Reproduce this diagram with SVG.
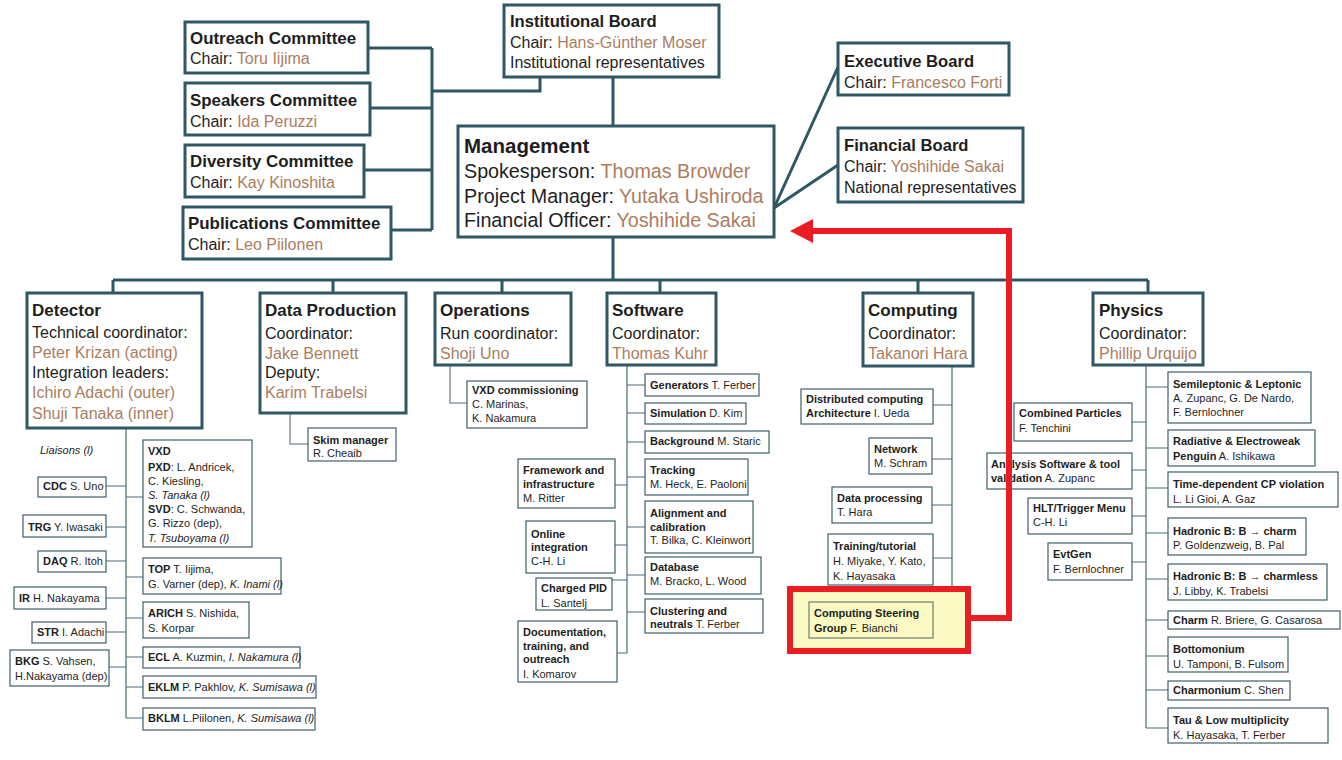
<svg xmlns="http://www.w3.org/2000/svg" width="1342" height="760" viewBox="0 0 1342 760">
<style>
text{font-family:"Liberation Sans",Arial,sans-serif;fill:#1e1e1e}
.bx{fill:#fff;stroke:#2f5764;stroke-width:3}
.sb{fill:#fff;stroke:#3f5f6a;stroke-width:1.2}
.m{fill:none;stroke:#2f5764;stroke-width:3}
.c{fill:none;stroke:#4a6b75;stroke-width:1.2}
.g{fill:none;stroke:#8c9ca2;stroke-width:1.6}
.ct{font-size:16.9px;font-weight:bold}
.t{font-size:16px}
.bt{font-size:16.6px;font-weight:bold}
.dt{font-size:17px;font-weight:bold}
.mg{font-size:19.7px}
.h{font-weight:bold}
.n{fill:#ab7d60}
.s{font-size:11px}
.i{font-style:italic}
.red{fill:none;stroke:#ec1c24;stroke-width:6}
</style>
<rect width="1342" height="760" fill="#fff"/>
<g id="connectors">
<path class="m" d="M368 48H432M370 108H432M364 170H432M391 230H432M432 48V230M432 91H540V77"/>
<path class="m" d="M613 77V126M613 237V280M113 280H1148M113 280V293M333 280V293M502 280V293M660 280V293M918 280V293M1148 280V293"/>
<path class="m" d="M774 208L838 67M774 208L838 165"/>
<path class="g" d="M290 413V444H308M450 365V403H467"/>
<path class="c" d="M126 428V718M106 486H126M106 527H126M106 561H126M106 598H126M106 632H126M109 667H126M126 497H143M126 577H143M126 618H143M126 657H143M126 687H143M126 718H143"/>
<path class="c" d="M627 365V653M627 385H645M627 413H645M627 442H645M627 477H645M627 527H645M627 575H645M627 612H645M615 485H627M615 545H627M612 580H627M617 653H627"/>
<path class="c" d="M952 366V618M933 405H952M932 459H952M932 505H952M933 558H952M933 618H952"/>
<path class="c" d="M1146 365V728M1132 422H1146M1132 470H1146M1132 516H1146M1132 562H1146M1146 387H1168M1146 448H1168M1146 488H1168M1146 533H1168M1146 579H1168M1146 620H1168M1146 656H1168M1146 690H1168M1146 728H1168"/>
<rect id="highlight" x="790" y="589" width="178" height="62" fill="#fbf9c4" stroke="#ec1c24" stroke-width="6"/>
</g>

<g id="outreach"><rect class="bx" x="185" y="22" width="183" height="51"/><text class="ct" x="190" y="44">Outreach Committee</text><text class="t" x="190" y="64">Chair: <tspan class="n">Toru Iijima</tspan></text></g>
<g id="speakers"><rect class="bx" x="185" y="83" width="185" height="52"/><text class="ct" x="190" y="106">Speakers Committee</text><text class="t" x="190" y="127">Chair: <tspan class="n">Ida Peruzzi</tspan></text></g>
<g id="diversity"><rect class="bx" x="185" y="145" width="179" height="52"/><text class="ct" x="190" y="167">Diversity Committee</text><text class="t" x="190" y="188">Chair: <tspan class="n">Kay Kinoshita</tspan></text></g>
<g id="publications"><rect class="bx" x="183" y="207" width="208" height="52"/><text class="ct" x="188" y="229">Publications Committee</text><text class="t" x="188" y="250">Chair: <tspan class="n">Leo Piilonen</tspan></text></g>

<g id="institutional"><rect class="bx" x="504" y="5" width="215" height="72"/><text class="bt" x="510" y="27">Institutional Board</text><text class="t" x="510" y="48">Chair: <tspan class="n">Hans-Günther Moser</tspan></text><text class="t" x="510" y="68">Institutional representatives</text></g>
<g id="management"><rect class="bx" x="458" y="126" width="316" height="111"/><text x="464" y="153" font-size="20.5" font-weight="bold">Management</text><text class="mg" x="464" y="178">Spokesperson: <tspan class="n">Thomas Browder</tspan></text><text class="mg" x="464" y="203">Project Manager: <tspan class="n">Yutaka Ushiroda</tspan></text><text class="mg" x="464" y="227">Financial Officer: <tspan class="n">Yoshihide Sakai</tspan></text></g>
<g id="executive"><rect class="bx" x="838" y="43" width="171" height="52"/><text class="bt" x="844" y="67">Executive Board</text><text class="t" x="844" y="88">Chair: <tspan class="n">Francesco Forti</tspan></text></g>
<g id="financial"><rect class="bx" x="838" y="128" width="185" height="74"/><text class="bt" x="844" y="151">Financial Board</text><text class="t" x="844" y="172">Chair: <tspan class="n">Yoshihide Sakai</tspan></text><text class="t" x="844" y="193">National representatives</text></g>

<g id="detector"><rect class="bx" x="27" y="293" width="175" height="135"/><text class="dt" x="32" y="316">Detector</text><text class="t" x="32" y="338">Technical coordinator:</text><text class="t n" x="32" y="358">Peter Krizan (acting)</text><text class="t" x="32" y="378">Integration leaders:</text><text class="t n" x="32" y="398">Ichiro Adachi (outer)</text><text class="t n" x="32" y="419">Shuji Tanaka (inner)</text></g>
<g id="dataproduction"><rect class="bx" x="260" y="293" width="146" height="120"/><text class="dt" x="265" y="316">Data Production</text><text class="t" x="265" y="339">Coordinator:</text><text class="t n" x="265" y="359">Jake Bennett</text><text class="t" x="265" y="378">Deputy:</text><text class="t n" x="265" y="398">Karim Trabelsi</text></g>
<g id="operations"><rect class="bx" x="435" y="293" width="136" height="72"/><text class="dt" x="440" y="316">Operations</text><text class="t" x="440" y="339">Run coordinator:</text><text class="t n" x="440" y="359">Shoji Uno</text></g>
<g id="software"><rect class="bx" x="607" y="293" width="109" height="72"/><text class="dt" x="612" y="316">Software</text><text class="t" x="612" y="339">Coordinator:</text><text class="t n" x="612" y="359">Thomas Kuhr</text></g>
<g id="computing"><rect class="bx" x="863" y="293" width="110" height="73"/><text class="dt" x="868" y="316">Computing</text><text class="t" x="868" y="339">Coordinator:</text><text class="t n" x="868" y="359">Takanori Hara</text></g>
<g id="physics"><rect class="bx" x="1093" y="293" width="110" height="72"/><text class="dt" x="1099" y="316">Physics</text><text class="t" x="1099" y="339">Coordinator:</text><text class="t n" x="1099" y="359">Phillip Urquijo</text></g>

<text class="s i" x="40" y="454" fill="#444">Liaisons (l)</text>
<g id="cdc"><rect class="sb" x="38" y="477" width="68" height="20"/><text class="s" x="43" y="490"><tspan class="h">CDC</tspan> S. Uno</text></g>
<g id="trg"><rect class="sb" x="23" y="515" width="83" height="22"/><text class="s" x="28" y="531"><tspan class="h">TRG</tspan> Y. Iwasaki</text></g>
<g id="daq"><rect class="sb" x="38" y="551" width="68" height="21"/><text class="s" x="43" y="565"><tspan class="h">DAQ</tspan> R. Itoh</text></g>
<g id="ir"><rect class="sb" x="14" y="587" width="92" height="22"/><text class="s" x="19" y="602"><tspan class="h">IR</tspan> H. Nakayama</text></g>
<g id="str"><rect class="sb" x="32" y="622" width="74" height="21"/><text class="s" x="37" y="636"><tspan class="h">STR</tspan> I. Adachi</text></g>
<g id="bkg"><rect class="sb" x="10" y="650" width="99" height="36"/><text class="s" x="15" y="665"><tspan class="h">BKG</tspan> S. Vahsen,</text><text class="s" x="15" y="680">H.Nakayama (dep)</text></g>
<g id="vxd"><rect class="sb" x="143" y="440" width="109" height="107"/><text class="s h" x="148" y="455">VXD</text><text class="s" x="148" y="471"><tspan class="h">PXD</tspan>: L. Andricek,</text><text class="s" x="148" y="485">C. Kiesling,</text><text class="s i" x="148" y="499">S. Tanaka (l)</text><text class="s" x="148" y="513"><tspan class="h">SVD</tspan>: C. Schwanda,</text><text class="s" x="148" y="527">G. Rizzo (dep),</text><text class="s i" x="148" y="542">T. Tsuboyama (l)</text></g>
<g id="top"><rect class="sb" x="143" y="558" width="138" height="36"/><text class="s" x="148" y="573"><tspan class="h">TOP</tspan> T. Iijima,</text><text class="s" x="148" y="588">G. Varner (dep), <tspan class="i">K. Inami (l)</tspan></text></g>
<g id="arich"><rect class="sb" x="143" y="602" width="106" height="36"/><text class="s" x="148" y="617"><tspan class="h">ARICH</tspan> S. Nishida,</text><text class="s" x="148" y="632">S. Korpar</text></g>
<g id="ecl"><rect class="sb" x="143" y="647" width="157" height="21"/><text class="s" x="148" y="661"><tspan class="h">ECL</tspan> A. Kuzmin, <tspan class="i">I. Nakamura (l)</tspan></text></g>
<g id="eklm"><rect class="sb" x="143" y="676" width="173" height="22"/><text class="s" x="148" y="691"><tspan class="h">EKLM</tspan> P. Pakhlov, <tspan class="i">K. Sumisawa (l)</tspan></text></g>
<g id="bklm"><rect class="sb" x="143" y="708" width="172" height="22"/><text class="s" x="148" y="722"><tspan class="h">BKLM</tspan> L.Piilonen, <tspan class="i">K. Sumisawa (l)</tspan></text></g>

<g id="skim"><rect class="sb" x="308" y="428" width="88" height="33"/><text class="s h" x="313" y="444">Skim manager</text><text class="s" x="313" y="457">R. Cheaib</text></g>
<g id="vxdcomm"><rect class="sb" x="467" y="381" width="120" height="47"/><text class="s h" x="472" y="394">VXD commissioning</text><text class="s" x="472" y="408">C. Marinas,</text><text class="s" x="472" y="422">K. Nakamura</text></g>

<g id="generators"><rect class="sb" x="645" y="374" width="114" height="22"/><text class="s" x="650" y="389"><tspan class="h">Generators</tspan> T. Ferber</text></g>
<g id="simulation"><rect class="sb" x="645" y="403" width="101" height="21"/><text class="s" x="650" y="417"><tspan class="h">Simulation</tspan> D. Kim</text></g>
<g id="background"><rect class="sb" x="645" y="431" width="124" height="22"/><text class="s" x="650" y="445"><tspan class="h">Background</tspan> M. Staric</text></g>
<g id="tracking"><rect class="sb" x="645" y="459" width="103" height="36"/><text class="s h" x="650" y="474">Tracking</text><text class="s" x="650" y="488">M. Heck, E. Paoloni</text></g>
<g id="alignment"><rect class="sb" x="645" y="501" width="108" height="52"/><text class="s h" x="650" y="517">Alignment and</text><text class="s h" x="650" y="531">calibration</text><text class="s" x="650" y="544">T. Bilka, C. Kleinwort</text></g>
<g id="database"><rect class="sb" x="645" y="557" width="116" height="37"/><text class="s h" x="650" y="571">Database</text><text class="s" x="650" y="585">M. Bracko, L. Wood</text></g>
<g id="clustering"><rect class="sb" x="645" y="599" width="118" height="34"/><text class="s h" x="650" y="615">Clustering and</text><text class="s" x="650" y="628"><tspan class="h">neutrals</tspan> T. Ferber</text></g>
<g id="framework"><rect class="sb" x="518" y="459" width="97" height="49"/><text class="s h" x="523" y="474">Framework and</text><text class="s h" x="523" y="488">infrastructure</text><text class="s" x="523" y="502">M. Ritter</text></g>
<g id="online"><rect class="sb" x="526" y="521" width="89" height="52"/><text class="s h" x="531" y="538">Online</text><text class="s h" x="531" y="551">integration</text><text class="s" x="531" y="565">C-H. Li</text></g>
<g id="chargedpid"><rect class="sb" x="536" y="578" width="76" height="32"/><text class="s h" x="541" y="592">Charged PID</text><text class="s" x="541" y="607">L. Santelj</text></g>
<g id="documentation"><rect class="sb" x="518" y="621" width="99" height="61"/><text class="s h" x="523" y="636">Documentation,</text><text class="s h" x="523" y="650">training, and</text><text class="s h" x="523" y="663">outreach</text><text class="s" x="523" y="678">I. Komarov</text></g>

<g id="distributed"><rect class="sb" x="801" y="389" width="132" height="35"/><text class="s h" x="806" y="403">Distributed computing</text><text class="s" x="806" y="417"><tspan class="h">Architecture</tspan> I. Ueda</text></g>
<g id="network"><rect class="sb" x="869" y="438" width="63" height="36"/><text class="s h" x="874" y="453">Network</text><text class="s" x="874" y="467">M. Schram</text></g>
<g id="dataprocessing"><rect class="sb" x="832" y="487" width="100" height="36"/><text class="s h" x="837" y="502">Data processing</text><text class="s" x="837" y="516">T. Hara</text></g>
<g id="training"><rect class="sb" x="828" y="534" width="105" height="51"/><text class="s h" x="833" y="550">Training/tutorial</text><text class="s" x="833" y="565">H. Miyake, Y. Kato,</text><text class="s" x="833" y="580">K. Hayasaka</text></g>
<g id="steering"><rect x="809" y="602" width="124" height="36" fill="#fafac2" stroke="#6f7f70" stroke-width="1.2"/><text class="s h" x="814" y="617">Computing Steering</text><text class="s" x="814" y="632"><tspan class="h">Group</tspan> F. Bianchi</text></g>

<g id="combined"><rect class="sb" x="1014" y="403" width="118" height="38"/><text class="s h" x="1019" y="417">Combined Particles</text><text class="s" x="1019" y="432">F. Tenchini</text></g>
<g id="analysis"><rect class="sb" x="987" y="453" width="145" height="36"/><text class="s h" x="991" y="468">Analysis Software &amp; tool</text><text class="s" x="991" y="482"><tspan class="h">validation</tspan> A. Zupanc</text></g>
<g id="hlt"><rect class="sb" x="1028" y="498" width="104" height="36"/><text class="s h" x="1033" y="512">HLT/Trigger Menu</text><text class="s" x="1033" y="526">C-H. Li</text></g>
<g id="evtgen"><rect class="sb" x="1048" y="543" width="84" height="37"/><text class="s h" x="1053" y="558">EvtGen</text><text class="s" x="1053" y="573">F. Bernlochner</text></g>

<g id="semileptonic"><rect class="sb" x="1168" y="372" width="143" height="51"/><text class="s h" x="1173" y="388">Semileptonic &amp; Leptonic</text><text class="s" x="1173" y="402">A. Zupanc, G. De Nardo,</text><text class="s" x="1173" y="416">F. Bernlochner</text></g>
<g id="radiative"><rect class="sb" x="1168" y="430" width="147" height="36"/><text class="s h" x="1173" y="445">Radiative &amp; Electroweak</text><text class="s" x="1173" y="460"><tspan class="h">Penguin</tspan>  A. Ishikawa</text></g>
<g id="timedep"><rect class="sb" x="1168" y="472" width="170" height="35"/><text class="s h" x="1173" y="488">Time-dependent CP violation</text><text class="s" x="1173" y="503">L. Li Gioi, A. Gaz</text></g>
<g id="hadcharm"><rect class="sb" x="1168" y="518" width="138" height="37"/><text class="s h" x="1173" y="535">Hadronic B: B → charm</text><text class="s" x="1173" y="549">P. Goldenzweig, B. Pal</text></g>
<g id="hadcharmless"><rect class="sb" x="1168" y="564" width="159" height="36"/><text class="s h" x="1173" y="580">Hadronic B: B → charmless</text><text class="s" x="1173" y="595">J. Libby,  K. Trabelsi</text></g>
<g id="charm"><rect class="sb" x="1168" y="611" width="172" height="18"/><text class="s" x="1173" y="624"><tspan class="h">Charm</tspan> R. Briere, G. Casarosa</text></g>
<g id="bottomonium"><rect class="sb" x="1168" y="637" width="120" height="35"/><text class="s h" x="1173" y="653">Bottomonium</text><text class="s" x="1173" y="668">U. Tamponi, B. Fulsom</text></g>
<g id="charmonium"><rect class="sb" x="1168" y="681" width="122" height="19"/><text class="s" x="1173" y="694"><tspan class="h">Charmonium</tspan> C. Shen</text></g>
<g id="tau"><rect class="sb" x="1168" y="708" width="160" height="35"/><text class="s h" x="1173" y="724">Tau &amp; Low multiplicity</text><text class="s" x="1173" y="739">K. Hayasaka, T. Ferber</text></g>

<g id="red-arrow">
<path class="red" d="M970 618H1009V231H810"/>
<polygon points="790,231 813,219 813,243" fill="#ec1c24"/>
</g>
</svg>
